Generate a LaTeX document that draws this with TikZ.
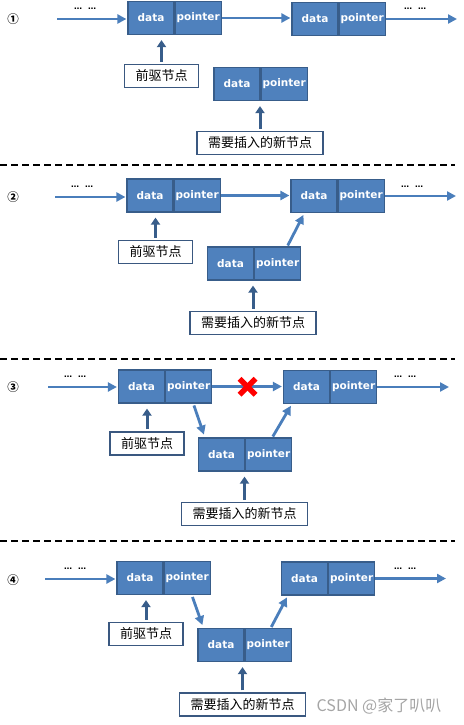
\documentclass[tikz,border=0pt]{standalone}
\usepackage{fontspec}
\setmainfont{DejaVu Sans}
\newfontfamily\cjk{Noto Sans CJK SC}
\usetikzlibrary{arrows.meta,calc,positioning}
\definecolor{cellblue}{RGB}{79,129,189}
\definecolor{celledge}{RGB}{56,93,138}
\definecolor{linkblue}{RGB}{74,126,187}
\definecolor{tagedge}{RGB}{58,88,128}
\definecolor{markgray}{RGB}{165,165,165}

\begin{document}
\begin{tikzpicture}[x=1pt, y=-1pt,
    cellbox/.style={draw=celledge, fill=cellblue, line width=1.2pt, minimum width=46pt, minimum height=33pt, inner sep=0pt, text=white, font=\fontsize{10.5}{12}\selectfont\bfseries},
    tagbox/.style={draw=tagedge, fill=white, line width=1.3pt, minimum height=23pt, inner xsep=11pt, inner ysep=0pt, font=\cjk\fontsize{13}{15}\selectfont},
    nextlink/.style={draw=linkblue, line width=2.8pt, -{Triangle[length=9pt,width=9pt]}, shorten >=1pt},
    pointup/.style={draw=celledge, line width=3pt, -{Triangle[length=7pt,width=9pt]}, shorten <=2pt, shorten >=5pt},
    stepnum/.style={font=\cjk\bfseries\fontsize{11.5}{13}\selectfont, inner sep=0pt},
    gapdots/.style={font=\fontsize{8}{9}\selectfont\bfseries, inner sep=0pt},
    cutline/.style={line width=1.6pt, dash pattern=on 7pt off 4pt},
    cross/.style={draw=red, line width=5.5pt}
  ]
  \useasboundingbox (0,0) rectangle (463,725);

  % step 1
  \node[stepnum] (num1) at (13,19) {①};
  \node[cellbox] (pre1d) at (151,18) {data};
  \node[cellbox, right=0pt of pre1d] (pre1p) {pointer};
  \node[cellbox] (nxt1d) at (315,19) {data};
  \node[cellbox, right=0pt of nxt1d] (nxt1p) {pointer};
  \node[cellbox] (new1d) at (237,84) {data};
  \node[cellbox, right=0pt of new1d] (new1p) {pointer};
  \node[tagbox] (preTag1) at (161.5,76) {前驱节点};
  \node[tagbox] (newTag1) at (260,143) {需要插入的新节点};
  \coordinate (in1) at (57,19);
  \coordinate (out1) at (458,19);
  \node[gapdots] (dotsIn1) at (85,9) {…\hspace{6pt}…};
  \node[gapdots] (dotsOut1) at (415,9) {…\hspace{6pt}…};
  \draw[nextlink] (in1) -- (in1 -| pre1d.west);
  \draw[nextlink] (pre1p.east) -- (pre1p.east -| nxt1d.west);
  \draw[nextlink] (nxt1p.east) -- (nxt1p.east -| out1);
  \draw[pointup] (preTag1.north) -- (preTag1.north |- pre1d.south);
  \draw[pointup] (newTag1.north) -- (newTag1.north |- new1d.south);
  \draw[cutline] (0,165) -- (455,165);

  % step 2
  \node[stepnum] (num2) at (13,197) {②};
  \node[cellbox] (pre2d) at (150,195.5) {data};
  \node[cellbox, right=0pt of pre2d] (pre2p) {pointer};
  \node[cellbox] (nxt2d) at (314,196) {data};
  \node[cellbox, right=0pt of nxt2d] (nxt2p) {pointer};
  \node[cellbox] (new2d) at (230.5,263.5) {data};
  \node[cellbox, right=0pt of new2d] (new2p) {pointer};
  \node[tagbox] (preTag2) at (155.5,252) {前驱节点};
  \node[tagbox] (newTag2) at (253,323) {需要插入的新节点};
  \coordinate (in2) at (55,197);
  \coordinate (out2) at (457,197);
  \node[gapdots] (dotsIn2) at (82,187) {…\hspace{6pt}…};
  \node[gapdots] (dotsOut2) at (412,187) {…\hspace{6pt}…};
  \draw[nextlink] (in2) -- (in2 -| pre2d.west);
  \draw[nextlink] (pre2p.east) -- (pre2p.east -| nxt2d.west);
  \draw[nextlink] (nxt2p.east) -- (nxt2p.east -| out2);
  \draw[nextlink, shorten <=1pt, shorten >=2pt] ([xshift=-14pt]new2p.north east) -- ([xshift=14pt]nxt2d.south west);
  \draw[pointup] (preTag2.north) -- (preTag2.north |- pre2d.south);
  \draw[pointup] (newTag2.north) -- (newTag2.north |- new2d.south);
  \draw[cutline] (0,359) -- (455,359);

  % step 3
  \node[stepnum] (num3) at (13,387) {③};
  \node[cellbox] (pre3d) at (141.5,386.5) {data};
  \node[cellbox, right=0pt of pre3d] (pre3p) {pointer};
  \node[cellbox] (nxt3d) at (306.5,387) {data};
  \node[cellbox, right=0pt of nxt3d] (nxt3p) {pointer};
  \node[cellbox] (new3d) at (221.5,454.5) {data};
  \node[cellbox, right=0pt of new3d] (new3p) {pointer};
  \node[tagbox] (preTag3) at (147,443.5) {前驱节点};
  \node[tagbox] (newTag3) at (244.5,514) {需要插入的新节点};
  \coordinate (in3) at (48,387);
  \coordinate (out3) at (450,387);
  \node[gapdots] (dotsIn3) at (75,377) {…\hspace{6pt}…};
  \node[gapdots] (dotsOut3) at (405,377) {…\hspace{6pt}…};
  \draw[nextlink] (in3) -- (in3 -| pre3d.west);
  \draw[nextlink] (pre3p.east) -- (pre3p.east -| nxt3d.west);
  \draw[nextlink] (nxt3p.east) -- (nxt3p.east -| out3);
  \draw[nextlink, shorten <=2pt, shorten >=3pt] ([xshift=-19pt]pre3p.south east) -- ([xshift=7pt]new3d.north west);
  \draw[nextlink, shorten <=1pt, shorten >=2pt] ([xshift=-20pt]new3p.north east) -- ([xshift=9pt]nxt3d.south west);
  \coordinate (cut3) at ($(pre3p.east)!0.5!(nxt3d.west)$);
  \draw[cross] ([shift={(-8,-8)}]cut3) -- ([shift={(8,8)}]cut3);
  \draw[cross] ([shift={(-8,8)}]cut3) -- ([shift={(8,-8)}]cut3);
  \draw[pointup] (preTag3.north) -- (preTag3.north |- pre3d.south);
  \draw[pointup] (newTag3.north) -- (newTag3.north |- new3d.south);
  \draw[cutline] (0,541) -- (455,541);

  % step 4
  \node[stepnum] (num4) at (13,580) {④};
  \node[cellbox] (pre4d) at (140,578) {data};
  \node[cellbox, right=0pt of pre4d] (pre4p) {pointer};
  \node[cellbox] (nxt4d) at (304.5,578.5) {data};
  \node[cellbox, right=0pt of nxt4d] (nxt4p) {pointer};
  \node[cellbox] (new4d) at (221,645) {data};
  \node[cellbox, right=0pt of new4d] (new4p) {pointer};
  \node[tagbox] (preTag4) at (146,634) {前驱节点};
  \node[tagbox] (newTag4) at (242.5,704.5) {需要插入的新节点};
  \coordinate (in4) at (45,579);
  \coordinate (out4) at (447,579);
  \node[gapdots] (dotsIn4) at (75,569) {…\hspace{6pt}…};
  \node[gapdots] (dotsOut4) at (405,569) {…\hspace{6pt}…};
  \draw[nextlink] (in4) -- (in4 -| pre4d.west);
  \draw[nextlink, shorten <=2pt, shorten >=3pt] ([xshift=-19pt]pre4p.south east) -- ([xshift=6pt]new4d.north west);
  \draw[nextlink, shorten <=1pt, shorten >=2pt] ([xshift=-21pt]new4p.north east) -- ([xshift=7pt]nxt4d.south west);
  \draw[nextlink] (nxt4p.east) -- (nxt4p.east -| out4);
  \draw[pointup] (preTag4.north) -- (preTag4.north |- pre4d.south);
  \draw[pointup] (newTag4.north) -- (newTag4.north |- new4d.south);
  \node[font=\cjk\fontsize{16}{18}\selectfont, text=markgray, inner sep=0pt] (mark) at (379,706) {CSDN @家了叭叭};
\end{tikzpicture}
\end{document}
